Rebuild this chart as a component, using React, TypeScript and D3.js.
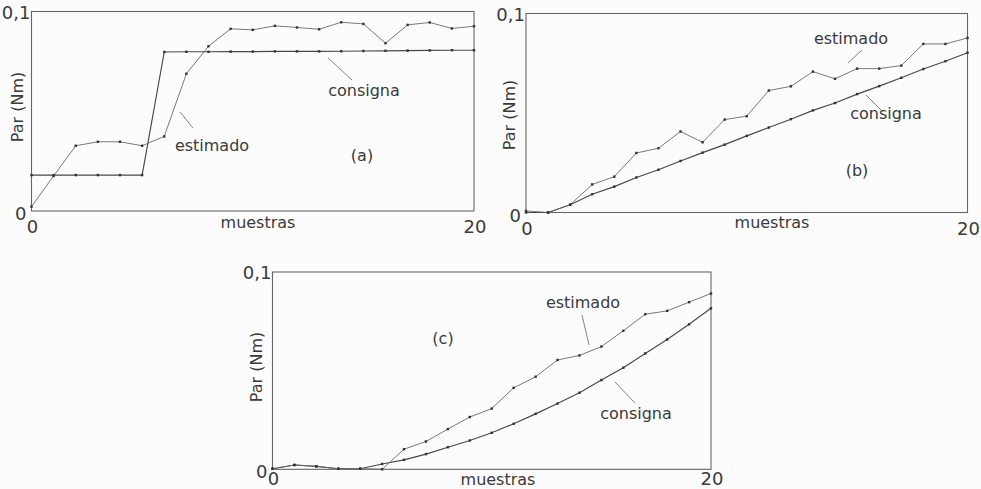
import React from 'react';
import * as d3 from 'd3';

// samples 0..20
const samples = d3.range(0, 21);

// (a) step reference
const consignaA = [0.018, 0.018, 0.018, 0.018, 0.018, 0.018, 0.0797, 0.0798, 0.0798, 0.0799, 0.0799, 0.08, 0.08, 0.08, 0.0801, 0.0802, 0.0803, 0.0804, 0.0805, 0.0806, 0.0806];
const estimadoA = [0.0022, 0.0176, 0.0327, 0.0347, 0.0347, 0.0327, 0.0374, 0.0688, 0.0826, 0.0913, 0.0908, 0.0928, 0.092, 0.0911, 0.0946, 0.0938, 0.0841, 0.0933, 0.0945, 0.0915, 0.0926];

// (b) ramp reference
const consignaB = [0, 0, 0.0039, 0.0092, 0.013, 0.0176, 0.0215, 0.0259, 0.0301, 0.0341, 0.0385, 0.0427, 0.0469, 0.0513, 0.055, 0.0595, 0.0635, 0.0677, 0.0721, 0.076, 0.0803];
const estimadoB = [0.0008, 0, 0.0039, 0.0141, 0.018, 0.0299, 0.0323, 0.0407, 0.0353, 0.0467, 0.0484, 0.0613, 0.0634, 0.0708, 0.0672, 0.0723, 0.0723, 0.0738, 0.0847, 0.0847, 0.0877];

// (c) parabolic reference
const consignaC = [0.0003, 0.0022, 0.0015, 0.0003, 0.0003, 0.0027, 0.0048, 0.0077, 0.0112, 0.0146, 0.0185, 0.0231, 0.0281, 0.0333, 0.0388, 0.0452, 0.0515, 0.0587, 0.0658, 0.0735, 0.0816];
const estimadoC = [0.0003, 0.0022, 0.0015, 0.0003, 0.0003, 0, 0.0102, 0.0141, 0.0204, 0.0265, 0.0308, 0.0413, 0.0469, 0.0554, 0.0577, 0.0622, 0.0702, 0.0786, 0.0803, 0.0847, 0.0891];

const FONT = '"DejaVu Sans", Verdana, sans-serif';
const TXT = '#3a3a3a';

type Label = { text: string; x: number; y: number; lx1: number; ly1: number; lx2: number; ly2: number };

type PanelProps = {
  x0: number; x1: number; yBottom: number; yTop: number;
  consigna: number[]; estimado: number[];
  tag: string; tagX: number; tagY: number;
  est: Label; con: Label;
  xLabelX: number; xLabelY: number;
  yLabelX: number; yLabelY: number;
  tickDy: number;
};

function Panel(p: PanelProps) {
  const x = d3.scaleLinear().domain([0, 20]).range([p.x0, p.x1]);
  const y = d3.scaleLinear().domain([0, 0.1]).range([p.yBottom, p.yTop]);
  const line = d3.line<number>().x((_, i) => x(samples[i])).y(d => y(d));

  const dots = (vals: number[], key: string) =>
    vals.map((v, i) => (
      <rect key={key + i} x={x(samples[i]) - 1.2} y={y(v) - 1.2} width={2.4} height={2.4} fill="#333" />
    ));

  return (
    <g>
      <rect x={x(0)} y={y(0.1)} width={x(20) - x(0)} height={y(0) - y(0.1)} fill="none" stroke="#666" strokeWidth={1.1} />
      <path d={line(p.consigna) || ''} fill="none" stroke="#484848" strokeWidth={1.15} />
      <path d={line(p.estimado) || ''} fill="none" stroke="#6a6a6a" strokeWidth={0.9} />
      {dots(p.consigna, 'c')}
      {dots(p.estimado, 'e')}

      <g fontFamily={FONT} fill={TXT}>
        <text x={x(0) - 1} y={y(0.1) + 7} fontSize={18} textAnchor="end">0,1</text>
        <text x={x(0) - 5} y={y(0) + 9} fontSize={18} textAnchor="end">0</text>
        <text x={x(0) + 1} y={y(0) + p.tickDy} fontSize={18} textAnchor="middle">0</text>
        <text x={x(20) + 1} y={y(0) + p.tickDy} fontSize={18} textAnchor="middle">20</text>
        <text x={p.xLabelX} y={p.xLabelY} fontSize={16} textAnchor="middle">muestras</text>
        <text transform={`translate(${p.yLabelX},${p.yLabelY}) rotate(-90)`} fontSize={16} textAnchor="middle">Par (Nm)</text>
        <text x={p.tagX} y={p.tagY} fontSize={16} textAnchor="middle">{p.tag}</text>
        <text x={p.est.x} y={p.est.y} fontSize={16} textAnchor="middle">{p.est.text}</text>
        <text x={p.con.x} y={p.con.y} fontSize={16} textAnchor="middle">{p.con.text}</text>
      </g>
      <line x1={p.est.lx1} y1={p.est.ly1} x2={p.est.lx2} y2={p.est.ly2} stroke="#666" strokeWidth={0.8} />
      <line x1={p.con.lx1} y1={p.con.ly1} x2={p.con.lx2} y2={p.con.ly2} stroke="#666" strokeWidth={0.8} />
    </g>
  );
}

export default function App() {
  return (
    <svg width={981} height={489} style={{ position: 'absolute', left: 0, top: 0, background: '#fcfcfc' }}>
      <Panel
        x0={31.5} x1={474} yBottom={211} yTop={11.5}
        consigna={consignaA} estimado={estimadoA} tickDy={22}
        tag="(a)" tagX={362} tagY={161}
        est={{ text: 'estimado', x: 212, y: 151, lx1: 180, ly1: 112, lx2: 193, ly2: 128 }}
        con={{ text: 'consigna', x: 364, y: 96, lx1: 328, ly1: 58, lx2: 352, ly2: 80 }}
        xLabelX={258} xLabelY={228} yLabelX={23} yLabelY={107}
      />
      <Panel
        x0={526} x1={967.5} yBottom={212.5} yTop={13.5}
        consigna={consignaB} estimado={estimadoB} tickDy={22}
        tag="(b)" tagX={857} tagY={176}
        est={{ text: 'estimado', x: 851, y: 44, lx1: 862, ly1: 50, lx2: 848, ly2: 63 }}
        con={{ text: 'consigna', x: 886, y: 119, lx1: 866, ly1: 95, lx2: 882, ly2: 111 }}
        xLabelX={772} xLabelY={228} yLabelX={515} yLabelY={115}
      />
      <Panel
        x0={272.5} x1={711} yBottom={469.3} yTop={272}
        consigna={consignaC} estimado={estimadoC} tickDy={16}
        tag="(c)" tagX={443} tagY={344}
        est={{ text: 'estimado', x: 583, y: 308, lx1: 582, ly1: 315, lx2: 589, ly2: 345 }}
        con={{ text: 'consigna', x: 636, y: 419, lx1: 615, ly1: 382, lx2: 635, ly2: 403 }}
        xLabelX={498} xLabelY={485} yLabelX={262} yLabelY={367}
      />
    </svg>
  );
}
